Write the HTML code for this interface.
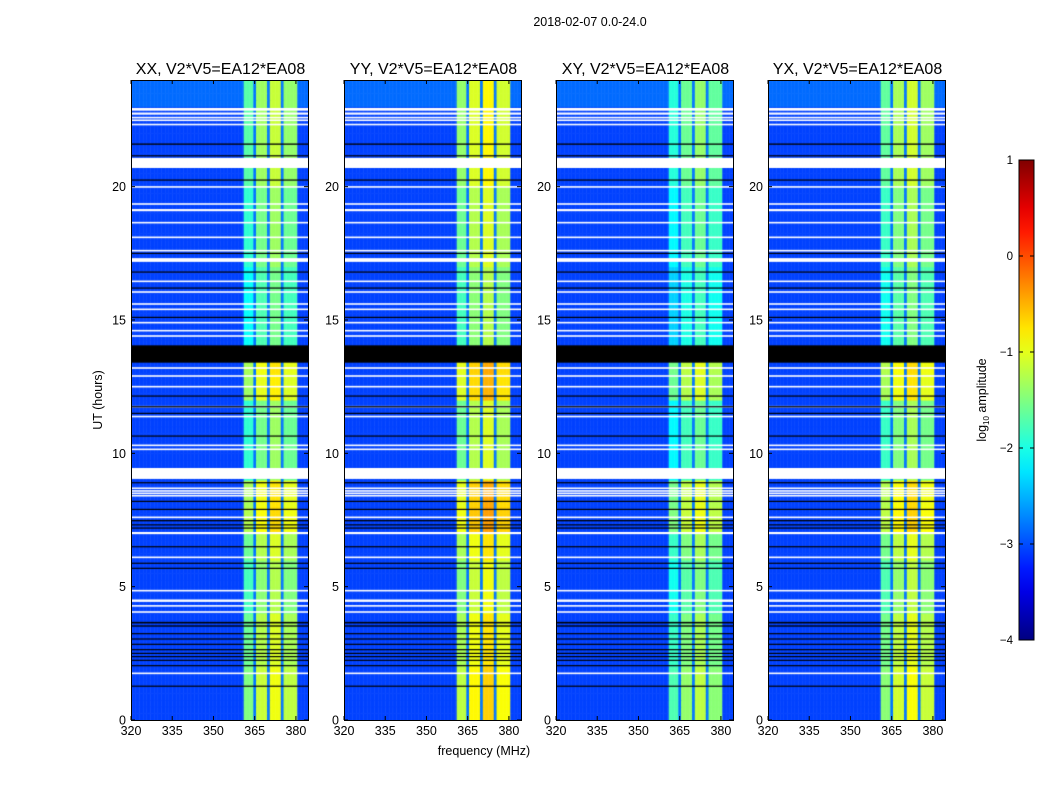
<!DOCTYPE html>
<html><head><meta charset="utf-8"><style>
body{margin:0;background:#fff;width:1050px;height:800px;overflow:hidden;position:relative;font-family:"Liberation Sans","DejaVu Sans",sans-serif}
canvas{position:absolute}
svg{position:absolute;left:0;top:0}
</style></head><body>
<svg id="s" width="1050" height="800"></svg>
<script>
// ---- data ----
const panelTitles = ["XX, V2*V5=EA12*EA08","YY, V2*V5=EA12*EA08","XY, V2*V5=EA12*EA08","YX, V2*V5=EA12*EA08"];
const panelOffsets = [0, 0.3, -0.25, 0.05];
const bgLevel = -3.05;
// frequency segments [from MHz, to MHz, log10 amplitude]
const bandSegments = [[360.8,364.6,-1.6],[364.6,365.4,-2.8],[365.4,369.7,-1.25],[369.7,370.4,-2.8],[370.4,374.6,-1.05],[374.6,375.3,-2.8],[375.3,380.3,-1.3]];
// per-hour band gain, hours 0..23
const hourGain = [0.1,0.1,0.0,0.0,-0.2,-0.2,0.0,0.35,0.3,-0.3,-0.3,-0.3,0.25,0.3,-0.5,-0.5,-0.5,-0.3,-0.3,-0.3,-0.1,-0.1,-0.1,-0.1];
const whiteFlags = [[22.85,22.95],[22.7,22.78],[22.56,22.62],[22.46,22.52],[22.3,22.36],[20.7,21.08],[19.96,20.02],[19.32,19.38],[19.08,19.16],[18.62,18.68],[18.07,18.13],[17.57,17.63],[17.18,17.32],[16.42,16.48],[16.02,16.08],[15.57,15.63],[15.37,15.43],[14.87,14.93],[14.57,14.63],[14.37,14.43],[13.17,13.23],[12.87,12.93],[12.47,12.53],[11.72,11.78],[11.35,11.41],[10.27,10.33],[10.12,10.18],[9.04,9.45],[8.67,8.72],[8.57,8.62],[8.48,8.53],[8.38,8.44],[7.57,7.63],[6.97,7.05],[6.07,6.13],[4.82,4.88],[4.43,4.52],[4.25,4.31],[4.02,4.08],[1.72,1.78]];
const blackFlags = [[21.57,21.62],[21.14,21.18],[20.23,20.27],[17.48,17.52],[16.78,16.82],[16.18,16.22],[15.08,15.12],[13.4,14.05],[12.13,12.17],[11.73,11.77],[11.48,11.52],[10.63,10.67],[8.88,8.92],[8.18,8.22],[7.88,7.92],[7.45,7.5],[7.3,7.34],[7.18,7.22],[6.48,6.52],[5.86,5.9],[5.67,5.71],[3.62,3.68],[3.5,3.55],[3.22,3.26],[3.02,3.06],[2.82,2.86],[2.62,2.66],[2.48,2.52],[2.36,2.4],[2.22,2.26],[2.02,2.06],[1.25,1.29]];
const xTicks = [320,335,350,365,380];
const yTicks = [0,5,10,15,20];
const cbTicks = [1,0,-1,-2,-3,-4];
// ---- layout ----
const panelLefts=[131,344,556,768], PW=177, PT=80, PB=720;
const fMin=320, fMax=384.4, tMin=0, tMax=24;
const xS=(f,L)=>L+(f-fMin)/(fMax-fMin)*PW;
const yS=t=>PB-(t-tMin)/(tMax-tMin)*(PB-PT);
function jet(v){let t=Math.max(0,Math.min(1,(v+4)/5));
 const c=x=>Math.round(255*Math.max(0,Math.min(1,1.5-Math.abs(4*t-x))));
 return `rgb(${c(3)},${c(2)},${c(1)})`;}
const NS="http://www.w3.org/2000/svg", svg=document.getElementById('s');
function el(tag,attrs,txt){const e=document.createElementNS(NS,tag);for(const k in attrs)e.setAttribute(k,attrs[k]);if(txt!==undefined)e.textContent=txt;svg.appendChild(e);return e;}
function level(f,t,p){let v=bgLevel+(t>23?0.2:0);
 for(const s of bandSegments){if(f>=s[0]&&f<s[1]){v=s[2]+hourGain[Math.min(23,Math.floor(t))]+panelOffsets[p];if(s[2]<-2.5)v=s[2];}}
 return v;}
panelLefts.forEach((L,p)=>{
 const cv=document.createElement('canvas');cv.width=PW;cv.height=PB-PT;cv.style.left=L+'px';cv.style.top=PT+'px';
 
 
 document.body.insertBefore(cv,svg);const g=cv.getContext('2d');
 const df=0.5, dt=0.25;
 for(let t=tMin;t<tMax;t+=dt)for(let f=fMin;f<fMax;f+=df){
  g.fillStyle=jet(level(f+df/2,t+dt/2,p));
  const x0=xS(f,0),x1=xS(f+df,0),y0=yS(t+dt)-PT,y1=yS(t)-PT;
  g.fillRect(x0,y0,x1-x0+0.5,y1-y0+0.5);}
 g.fillStyle='#fff';whiteFlags.forEach(w=>{const a=yS(w[1])-PT,b=yS(w[0])-PT;g.fillRect(0,a,PW,Math.max(1.6,b-a));});
 g.fillStyle='#000';blackFlags.forEach(w=>{const a=yS(w[1])-PT,b=yS(w[0])-PT;g.fillRect(0,a,PW,Math.max(1.2,b-a));});
 const fr=el('rect',{x:L+0.5,y:PT+0.5,width:PW,height:PB-PT,fill:'none',stroke:'#000','stroke-width':1});
 
 const ti=el('text',{x:L+PW/2+1,y:74,'text-anchor':'middle','font-size':16},panelTitles[p]);
 
 xTicks.forEach(v=>{const x=xS(v,L);el('line',{x1:x,x2:x,y1:PB,y2:PB-4,stroke:'#000'});el('line',{x1:x,x2:x,y1:PT,y2:PT+4,stroke:'#000'});
  const tl=el('text',{x:x,y:PB+15,'text-anchor':'middle','font-size':12.5},v);});
 yTicks.forEach(v=>{const y=yS(v);el('line',{x1:L,x2:L+4,y1:y,y2:y,stroke:'#000'});el('line',{x1:L+PW,x2:L+PW-4,y1:y,y2:y,stroke:'#000'});
  const tl=el('text',{x:L-5,y:y+4.5,'text-anchor':'end','font-size':12.5},v);});
});
let e;
e=el('text',{x:590,y:26,'text-anchor':'middle','font-size':12.5},'2018-02-07 0.0-24.0');
e=el('text',{x:484,y:755,'text-anchor':'middle','font-size':12.5},'frequency (MHz)');
e=el('text',{x:102,y:400,'text-anchor':'middle','font-size':12.5,transform:'rotate(-90 102 400)'},'UT (hours)');
// colorbar
const CX=1019,CW=15,CT=160,CB=640;
const cbY=v=>CB-(v+4)/5*(CB-CT);
const defs=el('defs',{});const lg=document.createElementNS(NS,'linearGradient');lg.setAttribute('id','jg');lg.setAttribute('x1','0');lg.setAttribute('x2','0');lg.setAttribute('y1','1');lg.setAttribute('y2','0');defs.appendChild(lg);
for(let i=0;i<=20;i++){const st=document.createElementNS(NS,'stop');st.setAttribute('offset',i/20);st.setAttribute('stop-color',jet(-4+5*i/20));lg.appendChild(st);}
e=el('rect',{x:CX,y:CT,width:CW,height:CB-CT,fill:'url(#jg)',stroke:'#000','stroke-width':1});
cbTicks.forEach(v=>{const y=cbY(v);el('line',{x1:CX,x2:CX+4,y1:y,y2:y,stroke:'#000'});el('line',{x1:CX+CW,x2:CX+CW-4,y1:y,y2:y,stroke:'#000'});
 const t=el('text',{x:CX-6,y:y+4,'text-anchor':'end','font-size':11.5},v<0?'\u2212'+(-v):v);});
e=el('text',{x:986,y:400,'text-anchor':'middle','font-size':12.5,transform:'rotate(-90 986 400)'});
e.innerHTML='log<tspan font-size="8" dy="3">10</tspan><tspan dy="-3"> amplitude</tspan>';
</script>
</body></html>
